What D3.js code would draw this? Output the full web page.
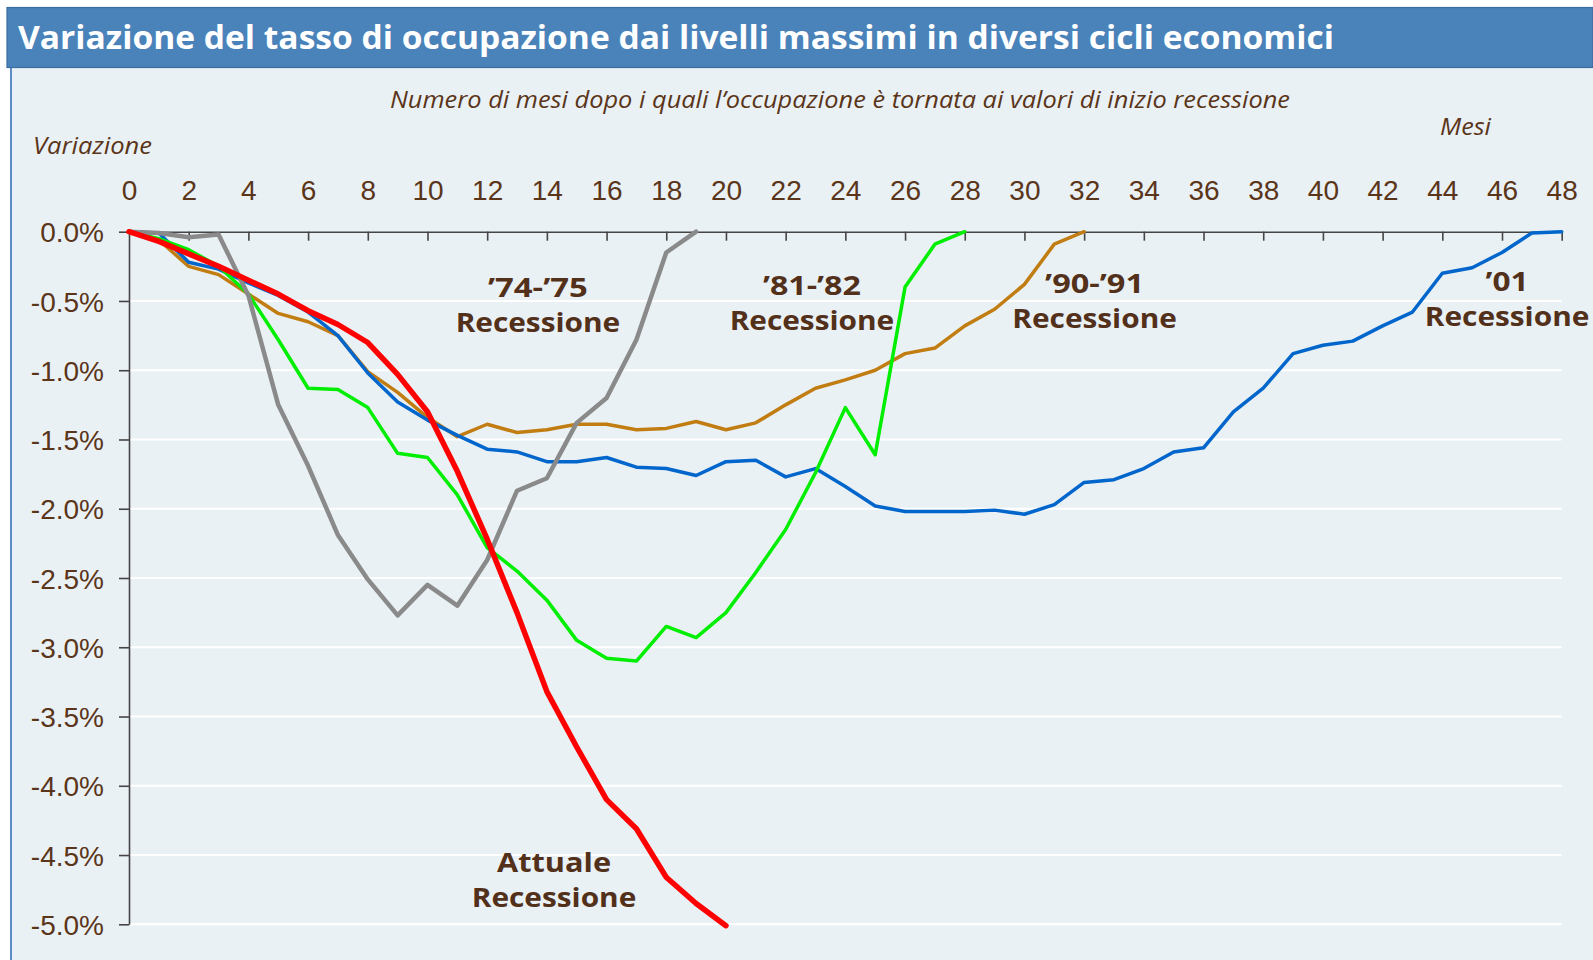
<!DOCTYPE html>
<html lang="it">
<head>
<meta charset="UTF-8">
<title>Variazione del tasso di occupazione dai livelli massimi</title>
<style>
  body { margin: 0; background: #fff; }
  svg { display: block; }
  .axis .tick text { font-family: 'Liberation Sans', Arial, sans-serif; font-size: 28px; fill: #5b3519; }
  .axis path, .axis line { stroke: #454545; stroke-width: 1.6; }
  .lbl { font-family: 'Open Sans', sans-serif; font-weight: bold; font-size: 27px; fill: #52301a; }
  .ital { font-family: 'Open Sans', sans-serif; font-style: italic; font-size: 23px; fill: #5b3519; }
</style>
</head>
<body>
<svg width="1593" height="960"></svg>
<script src="https://d3js.org/d3.v7.min.js"></script>
<script>
// mesi sull'asse x
const xTicks = [0, 2, 4, 6, 8, 10, 12, 14, 16, 18, 20, 22, 24, 26, 28, 30, 32, 34, 36, 38, 40, 42, 44, 46, 48];
const yTicks = [0, -0.5, -1, -1.5, -2, -2.5, -3, -3.5, -4, -4.5, -5];

// variazione % dell'occupazione, un valore per mese (dal mese 0)
const rec7475 = [0, -0.01, -0.04, -0.02, -0.46, -1.25, -1.69, -2.19, -2.51, -2.77, -2.55, -2.70, -2.37, -1.87, -1.78, -1.38, -1.20, -0.78, -0.15, 0];
const rec8182 = [0, -0.05, -0.13, -0.25, -0.45, -0.78, -1.13, -1.14, -1.27, -1.60, -1.63, -1.90, -2.28, -2.45, -2.66, -2.95, -3.08, -3.10, -2.85, -2.93,
  -2.75, -2.46, -2.15, -1.74, -1.27, -1.61, -0.40, -0.09, 0];
const rec9091 = [0, -0.06, -0.25, -0.31, -0.45, -0.59, -0.65, -0.75, -1.01, -1.16, -1.34, -1.48, -1.39, -1.45, -1.43, -1.39, -1.39, -1.43, -1.42, -1.37,
  -1.43, -1.38, -1.25, -1.13, -1.07, -1.00, -0.88, -0.84, -0.68, -0.56, -0.38, -0.09, 0];
const rec01 = [0, -0.01, -0.22, -0.27, -0.37, -0.46, -0.58, -0.75, -1.02, -1.23, -1.36, -1.47, -1.57, -1.59, -1.66, -1.66, -1.63, -1.70, -1.71, -1.76,
  -1.66, -1.65, -1.77, -1.71, -1.84, -1.98, -2.02, -2.02, -2.02, -2.01, -2.04, -1.97, -1.81, -1.79, -1.71, -1.59, -1.56, -1.30, -1.13, -0.88,
  -0.82, -0.79, -0.68, -0.58, -0.30, -0.26, -0.15, -0.01, 0];
const attuale = [0, -0.07, -0.16, -0.25, -0.35, -0.45, -0.57, -0.67, -0.80, -1.03, -1.30, -1.73, -2.22, -2.75, -3.32, -3.72, -4.10, -4.31, -4.66, -4.85, -5.01];

const series = [
  { values: rec9091, color: "#c27d12", width: 3.5 },
  { values: rec01, color: "#0066cc", width: 3.5 },
  { values: rec8182, color: "#00ee00", width: 3.5 },
  { values: rec7475, color: "#8a8a8a", width: 4.5 },
  { values: attuale, color: "#ff0000", width: 5.5 }
];

// etichette: mese e valore della prima riga
const labels = [
  { top: "\u201974-\u201975", m: 13.70, v: -0.471, w: 100 },
  { top: "\u201981-\u201982", m: 22.88, v: -0.457, w: 98 },
  { top: "\u201990-\u201991", m: 32.35, v: -0.440, w: 99 },
  { top: "\u201901", m: 46.17, v: -0.426, w: 43 },
  { top: "Attuale", m: 14.24, v: -4.620, w: 114 }
];

const svg = d3.select("svg");
const W = 1593, H = 960;
const x = d3.scaleLinear().domain([0, 48]).range([129, 1561.7]);
const y = d3.scaleLinear().domain([-5, 0]).range([924.3, 231.7]);

// fondo pannello
svg.append("rect").attr("x", 11).attr("y", 67).attr("width", W - 11).attr("height", H - 67).attr("fill", "#e9f1f5");
svg.append("line").attr("x1", 11).attr("x2", 11).attr("y1", 67).attr("y2", H)
  .attr("stroke", "#5b8cc4").attr("stroke-width", 2);

// barra del titolo
svg.append("rect").attr("x", 7).attr("y", 7.5).attr("width", W - 7).attr("height", 60)
  .attr("fill", "#4a82ba").attr("stroke", "#3b6c9f").attr("stroke-width", 1.2);
svg.append("text")
  .attr("x", 18).attr("y", 49)
  .attr("textLength", 1316).attr("lengthAdjust", "spacingAndGlyphs")
  .style("font-family", "'Open Sans', sans-serif").style("font-weight", "bold").style("font-size", "32px")
  .attr("fill", "#fff")
  .text("Variazione del tasso di occupazione dai livelli massimi in diversi cicli economici");

svg.append("text").attr("class", "ital").attr("x", 390).attr("y", 108)
  .attr("textLength", 900).attr("lengthAdjust", "spacingAndGlyphs")
  .text("Numero di mesi dopo i quali l\u2019occupazione è tornata ai valori di inizio recessione");
svg.append("text").attr("class", "ital").attr("x", 1440).attr("y", 135)
  .attr("textLength", 51).attr("lengthAdjust", "spacingAndGlyphs").text("Mesi");
svg.append("text").attr("class", "ital").attr("x", 33).attr("y", 154)
  .attr("textLength", 119).attr("lengthAdjust", "spacingAndGlyphs").text("Variazione");

// griglia
svg.append("g").selectAll("line")
  .data(yTicks.filter(d => d !== 0))
  .join("line")
  .attr("x1", x(0)).attr("x2", x(48))
  .attr("y1", d => y(d)).attr("y2", d => y(d))
  .attr("stroke", "#fff").attr("stroke-width", 2);

// assi
svg.append("g").attr("class", "axis")
  .attr("transform", `translate(0,${y(0)})`)
  .call(d3.axisTop(x).tickValues(xTicks).tickFormat(d => d).tickSizeInner(-9).tickSizeOuter(0).tickPadding(32))
  .call(g => g.selectAll(".tick").filter(d => d === 0).select("line").remove());

svg.append("g").attr("class", "axis")
  .attr("transform", `translate(${x(0)},0)`)
  .call(d3.axisLeft(y).tickValues(yTicks).tickFormat(d => d.toFixed(1) + "%").tickSize(10).tickPadding(15).tickSizeOuter(0))
  .call(g => g.selectAll(".tick text").attr("dy", "0.36em"));

// linee
const line = d3.line().x((d, i) => x(i)).y(d => y(d));
svg.append("g").selectAll("path")
  .data(series)
  .join("path")
  .attr("d", d => line(d.values))
  .attr("fill", "none")
  .attr("stroke", d => d.color)
  .attr("stroke-width", d => d.width)
  .attr("stroke-linejoin", "round")
  .attr("stroke-linecap", "round");

// etichette
const lg = svg.append("g").selectAll("g").data(labels).join("g");
lg.append("text").attr("class", "lbl")
  .attr("x", d => x(d.m)).attr("y", d => y(d.v))
  .attr("text-anchor", "middle")
  .attr("textLength", d => d.w).attr("lengthAdjust", "spacingAndGlyphs")
  .text(d => d.top);
lg.append("text").attr("class", "lbl")
  .attr("x", d => x(d.m)).attr("y", d => y(d.v) + 35)
  .attr("text-anchor", "middle")
  .attr("textLength", 164.5).attr("lengthAdjust", "spacingAndGlyphs")
  .text("Recessione");
</script>
</body>
</html>
